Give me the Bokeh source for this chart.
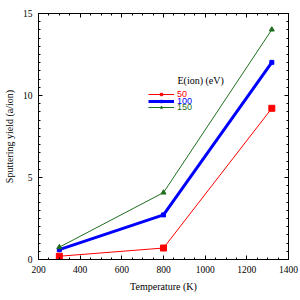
from bokeh.plotting import figure
from bokeh.models import (Range1d, SingleIntervalTicker, LinearAxis, Legend, LegendItem, Label)
from bokeh.embed import file_html
from bokeh.resources import INLINE

temperature = [300, 800, 1320]
y50 = [0.2, 0.7, 9.22]
y100 = [0.6, 2.72, 12.02]
y150 = [0.75, 4.08, 14.02]
series_labels = ["50", "100", "150"]
legend_title = "E(ion)  (eV)"

SERIF = "Liberation Serif"
SANS = "Liberation Sans"

p = figure(frame_width=250, frame_height=246, output_backend="svg", toolbar_location=None,
           x_range=Range1d(200, 1400), y_range=Range1d(0, 15),
           min_border_left=36, min_border_top=13, min_border_right=14, min_border_bottom=41,
           x_axis_label="Temperature (K)", y_axis_label="Sputtering yield (a/ion)")
p.width = 300
p.height = 300
p.grid.visible = False
p.outline_line_color = "black"
p.outline_line_width = 1
p.background_fill_color = "white"
p.border_fill_color = "white"

xt = SingleIntervalTicker(interval=200, num_minor_ticks=4)
yt = SingleIntervalTicker(interval=5, num_minor_ticks=10)
p.xaxis.ticker = xt
p.yaxis.ticker = yt

def style_axis(ax, labels=True):
    ax.axis_line_color = "black"
    ax.major_tick_in = 4
    ax.major_tick_out = 0
    ax.minor_tick_in = 2
    ax.minor_tick_out = 0
    ax.major_tick_line_color = "black"
    ax.minor_tick_line_color = "black"
    ax.major_label_text_font = SERIF
    ax.major_label_text_font_size = "9.5px"
    ax.major_label_text_color = "black"
    ax.axis_label_text_font = SERIF
    ax.axis_label_text_font_size = "10px"
    ax.axis_label_text_font_style = "normal"
    ax.axis_label_text_color = "black"
    ax.major_label_standoff = 5
    if not labels:
        ax.major_label_text_font_size = "0px"
        ax.major_label_standoff = 0

style_axis(p.xaxis[0])
style_axis(p.yaxis[0])
p.xaxis[0].major_label_standoff = 6
p.xaxis[0].axis_label_standoff = 5
p.yaxis[0].major_label_standoff = 6
p.yaxis[0].axis_label_standoff = 5

top = LinearAxis(ticker=xt)
right = LinearAxis(ticker=yt)
style_axis(top, False)
style_axis(right, False)
p.add_layout(top, "above")
p.add_layout(right, "right")

RED = "#ff0000"
BLUE = "#0000ff"
GREEN = "#1e6e1e"

l1 = p.line(temperature, y50, line_color=RED, line_width=1)
s1 = p.scatter(temperature, y50, marker="square", size=6, color=RED)
l2 = p.line(temperature, y100, line_color=BLUE, line_width=3)
s2 = p.scatter(temperature, y100, marker="square", size=4, color=BLUE)
l3 = p.line(temperature, y150, line_color=GREEN, line_width=1)
s3 = p.scatter(temperature, y150, marker="triangle", size=5, color=GREEN)

entries = [(series_labels[0], [l1, s1], RED, 160),
           (series_labels[1], [l2, s2], BLUE, 153.5),
           (series_labels[2], [l3, s3], GREEN, 147)]
for lab, rs, col, yy in entries:
    lg = Legend(items=[LegendItem(label=lab, renderers=rs)], location=(110, yy),
                glyph_width=26, glyph_height=6, label_height=6, label_standoff=3,
                padding=0, margin=0, spacing=0, border_line_alpha=0,
                background_fill_alpha=0, label_text_color=col,
                label_text_font=SANS, label_text_font_size="9px")
    p.add_layout(lg, "center")

p.add_layout(Label(x=867, y=10.9, text=legend_title, text_font=SERIF, text_font_size="10px",
                   text_baseline="middle", text_color="black"))

open("out.html", "w").write(file_html(p, INLINE))
